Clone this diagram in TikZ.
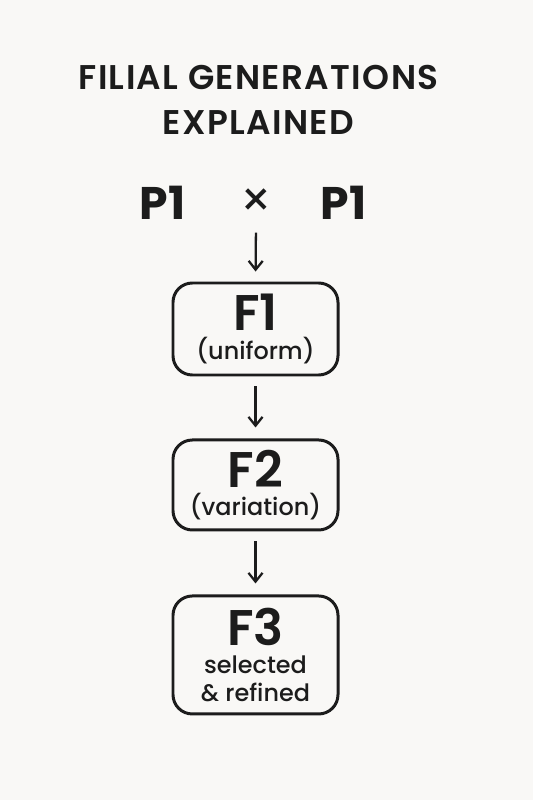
\documentclass[tikz,border=0pt]{standalone}
\usepackage{fontspec}
\setmainfont{Poppins}
\newfontfamily\medfont{Poppins Medium}
\newfontfamily\semifont{Poppins SemiBold}
\newfontfamily\titlefont{Poppins SemiBold}[LetterSpace=4]
\usepackage{xcolor}
\usepackage{tikz}
\usetikzlibrary{arrows.meta,positioning}

\definecolor{paper}{HTML}{F9F8F6}
\definecolor{ink}{HTML}{1C1C1C}

\newcommand{\genlabel}{\semifont\fontsize{28.5}{30}\selectfont}
\newcommand{\gennote}{\medfont\fontsize{13.6}{16}\selectfont}

\begin{document}
\begin{tikzpicture}[
  %% style definitions
  gen/.style    = {draw=ink, line width=1.7pt, rounded corners=11pt,
                   minimum width=3.3cm, align=center, text=ink,
                   inner sep=0pt, font=\gennote},
  parent/.style = {font=\fontsize{26}{28}\selectfont\bfseries, text=ink},
  arr/.style    = {-{Straight Barb[length=5pt,width=8pt]}, line width=1.3pt,
                   draw=ink},
]

%% ── Canvas ──────────────────────────────────────────────────────────────────
\fill[paper] (0,0) rectangle (10.66,-16);
\useasboundingbox (0,0) rectangle (10.66,-16);

%% ── Title ───────────────────────────────────────────────────────────────────
\node[align=center, text=ink, font=\titlefont\fontsize{19.5}{26}\selectfont]
  (title) at (5.17,-2.0) {FILIAL GENERATIONS\\EXPLAINED};

%% ── Parental cross ──────────────────────────────────────────────────────────
\node[parent] (pa)    at (3.25,-4.06) {P1};
\node[parent, font=\fontsize{28}{30}\selectfont] (cross) at (5.12,-4.06) {×};
\node[parent] (pb)    at (6.87,-4.06) {P1};

%% ── Generations ─────────────────────────────────────────────────────────────
\node[gen, minimum height=1.84cm] (f1) at (5.11,-6.58)
  {{\genlabel F1}\\(uniform)};

\node[gen, minimum height=1.80cm, below=1.24cm of f1] (f2)
  {{\genlabel F2}\\(variation)};

\node[gen, minimum height=2.36cm, below=1.26cm of f2] (f3)
  {{\genlabel F3}\\selected\\\& refined};

%% ── Arrows ──────────────────────────────────────────────────────────────────
\draw[arr, shorten <=0.18cm, shorten >=0.2cm] (cross.south) -- (f1.north);
\draw[arr, shorten <=0.2cm, shorten >=0.22cm] (f1) -- (f2);
\draw[arr, shorten <=0.2cm, shorten >=0.22cm] (f2) -- (f3);

\end{tikzpicture}
\end{document}
